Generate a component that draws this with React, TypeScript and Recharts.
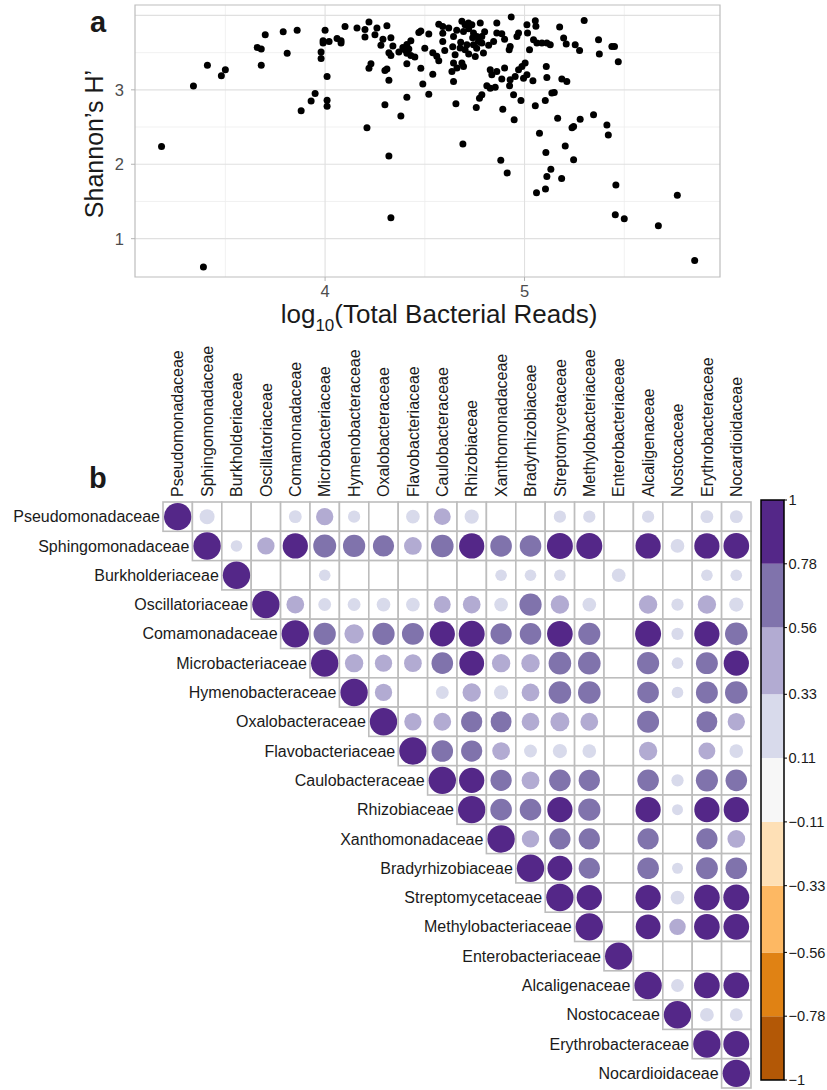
import React from "react";
import {
  ScatterChart,
  Scatter,
  XAxis,
  YAxis,
  CartesianGrid,
  ReferenceArea,
} from "recharts";

const FONT = "'Liberation Sans', Arial, Helvetica, sans-serif";
const INK = "#1a1a1a";

// ---------- panel a: diversity vs sequencing depth ----------
const LOG_READS = [
  3.18, 3.39, 3.34, 3.41, 3.48, 3.5, 3.66, 3.68, 3.68, 3.7, 3.79, 3.81, 3.86, 3.88, 3.93, 3.95,
  4.0, 3.99, 3.99, 4.02, 3.98, 3.98, 4.01, 4.01, 4.01, 4.06, 4.08, 4.08, 4.1, 4.16, 4.21, 4.2,
  4.2, 4.22, 4.25, 4.26, 4.31, 4.22, 4.23, 4.28, 4.29, 4.33, 4.34, 4.33, 4.32, 4.3, 4.31, 4.32,
  4.3, 4.32, 4.33, 4.38, 4.41, 4.37, 4.39, 4.41, 4.42, 4.41, 4.43, 4.45, 4.43, 4.47, 4.48, 4.52,
  4.5, 4.49, 4.52, 4.48, 4.54, 4.54, 4.57, 4.57, 4.4, 4.41, 4.56, 4.59, 4.59, 4.6, 4.59, 4.62,
  4.644, 4.652, 4.644, 4.636, 4.644, 4.661, 4.677, 4.686, 4.702, 4.694, 4.719, 4.736, 4.711,
  4.702, 4.686, 4.694, 4.744, 4.744, 4.753, 4.761, 4.778, 4.769, 4.786, 4.786, 4.794, 4.845,
  4.861, 4.861, 4.886, 4.933, 4.928, 4.923, 4.97, 4.962, 5.012, 5.054, 5.057, 5.015, 5.025,
  5.045, 5.062, 5.087, 5.112, 5.129, 5.176, 5.196, 5.209, 5.254, 5.276, 5.299, 5.371, 5.375,
  4.828, 4.836, 4.861, 4.9, 4.886, 4.928, 4.953, 4.97, 4.987, 5.003, 5.012, 4.995, 5.042, 5.109,
  5.112, 5.187, 5.212, 4.925, 4.811, 4.828, 4.853, 4.786, 4.774, 4.656, 4.758, 4.891, 4.945,
  4.982, 5.054, 5.104, 5.137, 5.149, 4.948, 5.075, 5.166, 5.246, 5.279, 5.346, 5.413, 4.691,
  4.881, 4.913, 5.107, 5.204, 5.246, 5.132, 5.112, 5.186, 5.06, 5.105, 5.42, 5.238, 5.458,
  5.455, 5.5, 5.671, 5.766, 5.853, 5.47, 5.438, 5.451,
  4.66, 4.72, 4.74, 4.8, 4.68, 4.72, 4.76, 4.82, 4.64, 4.9,
];
const SHANNON = [
  2.24, 0.62, 3.05, 3.33, 3.19, 3.27, 3.57, 3.55, 3.33, 3.74, 3.78, 3.49, 3.8, 2.72, 2.85, 2.95,
  3.8, 3.66, 3.63, 3.65, 3.51, 3.42, 3.18, 2.86, 2.78, 3.69, 3.66, 3.63, 3.85, 3.83, 2.49, 3.81,
  3.71, 3.91, 3.74, 3.83, 3.86, 3.29, 3.35, 3.6, 3.68, 3.7, 3.59, 3.46, 3.5, 3.26, 3.28, 3.13,
  2.8, 2.11, 1.28, 2.65, 2.9, 3.51, 3.57, 3.61, 3.55, 3.35, 3.46, 3.44, 3.66, 3.77, 3.79, 3.75,
  3.56, 3.08, 2.94, 3.29, 3.21, 3.5, 3.39, 3.88, 3.54, 3.49, 3.45, 3.76, 3.65, 3.53, 3.85, 3.83,
  3.718, 3.471, 3.359, 3.247, 3.112, 3.292, 3.561, 3.92, 3.875, 3.785, 3.898, 3.875, 3.606,
  3.539, 3.359, 3.314, 3.763, 3.606, 3.449, 3.718, 3.898, 3.651, 3.718, 3.628, 3.494, 3.651,
  3.898, 3.763, 3.754, 3.978, 3.584, 3.539, 3.763, 3.718, 3.875, 3.929, 3.853, 3.763, 3.539,
  3.673, 3.628, 3.628, 3.628, 3.606, 3.844, 3.696, 3.615, 3.606, 3.53, 3.933, 3.673, 3.48,
  3.269, 3.202, 3.247, 3.292, 3.144, 3.135, 3.18, 3.269, 3.314, 3.359, 3.202, 3.157, 3.121, 3.314,
  3.166, 3.144, 3.112, 3.054, 3.054, 3.023, 3.036, 2.933, 2.888, 2.812, 2.763, 2.74, 2.933,
  2.857, 2.785, 2.857, 2.956, 2.964, 2.597, 2.417, 2.619, 2.507, 2.606, 2.664, 2.529, 2.273,
  2.053, 1.883, 2.157, 2.246, 2.062, 1.932, 1.834, 1.807, 1.618, 1.668, 2.394, 2.49, 1.722,
  1.322, 1.268, 1.174, 1.582, 0.708, 3.377, 3.583, 3.583,
  3.8, 3.82, 3.7, 3.78, 3.64, 3.48, 3.56, 3.6, 3.58, 3.68,
];
const X_DOMAIN: [number, number] = [3.047, 5.98];
const Y_DOMAIN: [number, number] = [0.485, 4.14];
const X_TICKS = [4, 5];
const Y_TICKS = [1, 2, 3];
const X_MAJOR = [4, 5];
const X_MINOR = [3.5, 4.5, 5.5];
const Y_MAJOR = [1, 2, 3, 4];
const Y_MINOR = [1.5, 2.5, 3.5];

// ---------- panel b: family correlations ----------
const FAMILIES = [
  "Pseudomonadaceae",
  "Sphingomonadaceae",
  "Burkholderiaceae",
  "Oscillatoriaceae",
  "Comamonadaceae",
  "Microbacteriaceae",
  "Hymenobacteraceae",
  "Oxalobacteraceae",
  "Flavobacteriaceae",
  "Caulobacteraceae",
  "Rhizobiaceae",
  "Xanthomonadaceae",
  "Bradyrhizobiaceae",
  "Streptomycetaceae",
  "Methylobacteriaceae",
  "Enterobacteriaceae",
  "Alcaligenaceae",
  "Nostocaceae",
  "Erythrobacteraceae",
  "Nocardioidaceae",
];
// row i starts at the diagonal (column i); null = not significant, left blank
const CORR: (number | null)[][] = [
  [1, 0.3, null, null, 0.22, 0.4, 0.2, null, 0.25, 0.38, 0.27, null, null, 0.2, 0.2, null, 0.2, null, 0.22, 0.22],
  [1, 0.18, 0.4, 0.85, 0.7, 0.66, 0.6, 0.42, 0.68, 0.85, 0.62, 0.62, 0.9, 0.9, null, 0.85, 0.25, 0.85, 0.88],
  [1, null, null, 0.18, null, null, null, null, null, 0.18, 0.18, 0.18, null, 0.25, null, null, 0.18, 0.18],
  [1, 0.42, 0.22, 0.22, 0.25, 0.25, 0.38, 0.42, 0.25, 0.66, 0.45, 0.25, null, 0.45, 0.2, 0.45, 0.27],
  [1, 0.66, 0.5, 0.66, 0.64, 0.85, 0.9, 0.6, 0.62, 0.88, 0.65, null, 0.9, 0.2, 0.85, 0.68],
  [1, 0.45, 0.4, 0.42, 0.62, 0.82, 0.45, 0.45, 0.68, 0.68, null, 0.65, 0.18, 0.64, 0.85],
  [1, 0.4, null, 0.22, 0.45, 0.27, 0.42, 0.68, 0.68, null, 0.62, 0.18, 0.64, 0.68],
  [1, 0.4, 0.42, 0.6, 0.58, 0.42, 0.48, 0.42, null, 0.64, null, 0.58, 0.4],
  [1, 0.62, 0.6, 0.42, 0.22, 0.27, 0.25, null, 0.45, null, 0.38, 0.25],
  [1, 0.85, 0.6, 0.42, 0.62, 0.6, null, 0.62, 0.2, 0.65, 0.62],
  [1, 0.62, 0.62, 0.85, 0.66, null, 0.85, 0.16, 0.85, 0.85],
  [1, 0.4, 0.6, 0.6, null, 0.6, null, 0.6, 0.42],
  [1, 0.82, 0.6, null, 0.62, 0.16, 0.64, 0.62],
  [1, 0.85, null, 0.85, 0.25, 0.88, 0.9],
  [1, null, 0.82, 0.36, 0.88, 0.88],
  [1, null, null, null, null],
  [1, 0.22, 0.88, 0.88],
  [1, 0.25, 0.22],
  [1, 0.9],
  [1],
];
const BAR_BREAKS = [-1, -0.78, -0.56, -0.33, -0.11, 0.11, 0.33, 0.56, 0.78, 1];
const BAR_COLORS = ["#B35806", "#E08214", "#FDB863", "#FEE0B6", "#F7F7F7", "#D8DAEB", "#B2ABD2", "#8073AC", "#542788"];

const points = LOG_READS.map((x, i) => ({ x, y: SHANNON[i] }));
const cells = CORR.flatMap((row, i) => row.map((r, k) => ({ col: i + k, row: i, r })));
const bands = BAR_COLORS.map((c, i) => ({
  x: 0.5,
  y: (BAR_BREAKS[i] + BAR_BREAKS[i + 1]) / 2,
  color: c,
}));

// matrix chart geometry
const B_W = 760;
const B_H = 750;
const B_MARGIN = { top: 0, right: 9, bottom: 2, left: 163 };
const B_LABEL_H = 162;
const CELL_W = (B_W - B_MARGIN.left - B_MARGIN.right) / FAMILIES.length;
const CELL_H = (B_H - B_MARGIN.top - B_MARGIN.bottom - B_LABEL_H) / FAMILIES.length;
const R_MAX = CELL_W * 0.466;

const corrColor = (v: number) => {
  for (let k = 0; k < BAR_COLORS.length; k++) {
    if (v < BAR_BREAKS[k + 1]) return BAR_COLORS[k];
  }
  return BAR_COLORS[BAR_COLORS.length - 1];
};

const fmtBreak = (v: number) => (v < 0 ? "\u2212" + Math.abs(v) : String(v));

function CellMark(props: any) {
  const { cx, cy, payload } = props;
  const v = payload.r;
  return (
    <g>
      <rect
        x={cx - CELL_W / 2}
        y={cy - CELL_H / 2}
        width={CELL_W}
        height={CELL_H}
        fill="#fff"
        stroke="#BDBDBD"
        strokeWidth={1.6}
      />
      {v != null && (
        <circle cx={cx} cy={cy} r={R_MAX * Math.sqrt(Math.abs(v))} fill={corrColor(v)} />
      )}
      {payload.row === payload.col && (
        <text
          x={cx - CELL_W / 2 - 3}
          y={cy}
          dy="0.35em"
          textAnchor="end"
          fontSize={16}
          fontFamily={FONT}
          fill={INK}
        >
          {FAMILIES[payload.row]}
        </text>
      )}
    </g>
  );
}

function ColTick({ x, y, payload }: any) {
  return (
    <text
      x={x}
      y={y}
      transform={`rotate(-90 ${x} ${y})`}
      dy="0.36em"
      textAnchor="start"
      fontSize={16}
      fontFamily={FONT}
      fill={INK}
    >
      {FAMILIES[payload.value]}
    </text>
  );
}

const Dot = (p: any) => <circle cx={p.cx} cy={p.cy} r={3.5} fill="#000" />;
const NoMark = () => <g />;

export default function App() {
  return (
    <div
      style={{
        position: "absolute",
        left: 0,
        top: 0,
        width: 827,
        height: 1090,
        overflow: "hidden",
        background: "#fff",
        fontFamily: FONT,
      }}
    >
      {/* a */}
      <div style={{ position: "absolute", left: 0, top: 0 }}>
        <ScatterChart width={827} height={340} margin={{ top: 5, right: 107, bottom: 0, left: 0 }}>
          <CartesianGrid horizontalValues={Y_MINOR} verticalValues={X_MINOR} stroke="#EDEDED" strokeWidth={0.8} />
          <CartesianGrid horizontalValues={Y_MAJOR} verticalValues={X_MAJOR} stroke="#E0E0E0" strokeWidth={1.1} />
          <XAxis
            type="number"
            dataKey="x"
            domain={X_DOMAIN}
            ticks={X_TICKS}
            allowDataOverflow
            height={63}
            tickSize={4}
            tickMargin={4}
            axisLine={false}
            tickLine={{ stroke: "#B3B3B3" }}
            tick={{ fill: "#4D4D4D", fontSize: 16.5, fontFamily: FONT }}
          />
          <YAxis
            type="number"
            dataKey="y"
            domain={Y_DOMAIN}
            ticks={Y_TICKS}
            allowDataOverflow
            width={135}
            tickSize={4}
            tickMargin={7}
            axisLine={false}
            tickLine={{ stroke: "#B3B3B3" }}
            tick={{ fill: "#4D4D4D", fontSize: 16.5, fontFamily: FONT }}
          />
          <ReferenceArea
            x1={X_DOMAIN[0]}
            x2={X_DOMAIN[1]}
            y1={Y_DOMAIN[0]}
            y2={Y_DOMAIN[1]}
            fill="none"
            stroke="#BDBDBD"
            strokeWidth={1.2}
          />
          <Scatter data={points} shape={Dot} isAnimationActive={false} />
        </ScatterChart>
      </div>

      {/* b: correlation matrix */}
      <div style={{ position: "absolute", left: 0, top: 340 }}>
        <ScatterChart width={B_W} height={B_H} margin={B_MARGIN}>
          <XAxis
            type="number"
            dataKey="col"
            orientation="top"
            domain={[-0.5, FAMILIES.length - 0.5]}
            ticks={FAMILIES.map((_, i) => i)}
            interval={0}
            height={B_LABEL_H}
            tickSize={0}
            tickMargin={5}
            axisLine={false}
            tickLine={false}
            tick={<ColTick />}
          />
          <YAxis
            type="number"
            dataKey="row"
            domain={[-0.5, FAMILIES.length - 0.5]}
            reversed
            hide
          />
          <Scatter data={cells} shape={<CellMark />} isAnimationActive={false} />
        </ScatterChart>
      </div>

      {/* colour key */}
      <div style={{ position: "absolute", left: 740, top: 480 }}>
        <ScatterChart width={87} height={610} margin={{ top: 20, right: 0, bottom: 10, left: 21 }}>
          <XAxis type="number" dataKey="x" domain={[0, 1]} hide />
          <YAxis
            type="number"
            dataKey="y"
            orientation="right"
            domain={[-1, 1]}
            ticks={BAR_BREAKS}
            interval={0}
            width={43}
            tickSize={3}
            tickMargin={1.5}
            axisLine={false}
            tickLine={{ stroke: "#000" }}
            tick={{ fill: INK, fontSize: 14.6, fontFamily: FONT }}
            tickFormatter={fmtBreak}
          />
          {BAR_COLORS.map((c, i) => (
            <ReferenceArea
              key={c}
              x1={0}
              x2={1}
              y1={BAR_BREAKS[i]}
              y2={BAR_BREAKS[i + 1]}
              fill={c}
              fillOpacity={1}
              stroke="none"
              ifOverflow="visible"
            />
          ))}
          <ReferenceArea
            x1={0}
            x2={1}
            y1={-1}
            y2={1}
            fill="none"
            stroke="#000"
            strokeWidth={1.5}
            ifOverflow="visible"
          />
          <Scatter data={bands} shape={NoMark} isAnimationActive={false} />
        </ScatterChart>
      </div>

      {/* titles and panel letters */}
      <svg
        width={827}
        height={1090}
        style={{ position: "absolute", left: 0, top: 0, pointerEvents: "none" }}
        fontFamily={FONT}
      >
        <text x={90} y={31.5} fontSize={29} fontWeight="bold" fill={INK}>
          a
        </text>
        <text x={89} y={488} fontSize={29} fontWeight="bold" fill={INK}>
          b
        </text>
        <text
          x={103}
          y={144}
          transform="rotate(-90 103 144)"
          textAnchor="middle"
          fontSize={25}
          fill={INK}
        >
          Shannon’s H’
        </text>
        <text x={439} y={323} textAnchor="middle" fontSize={26} fill={INK}>
          log
          <tspan dy={8} fontSize={17}>
            10
          </tspan>
          <tspan dy={-8}>(Total Bacterial Reads)</tspan>
        </text>
      </svg>
    </div>
  );
}
